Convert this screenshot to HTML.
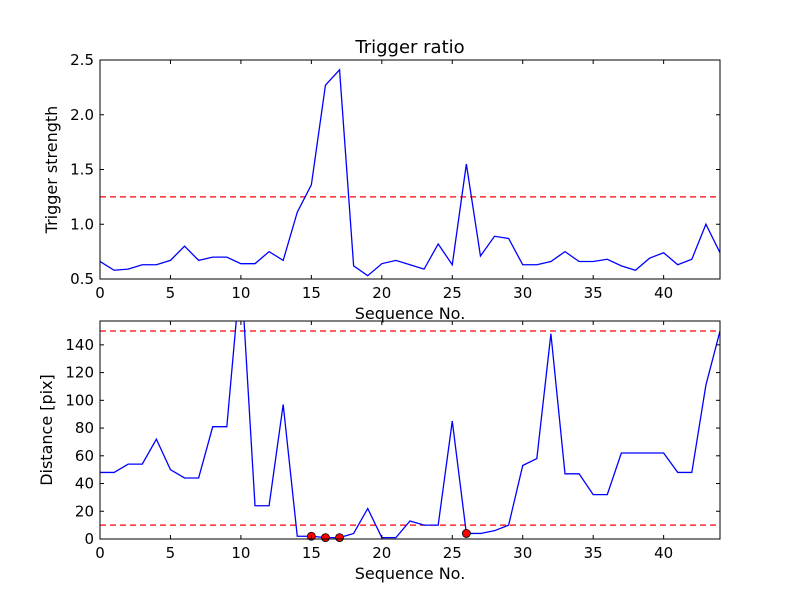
<!DOCTYPE html>
<html><head><meta charset="utf-8"><style>
body{margin:0;background:#fff}
svg text{font-family:"DejaVu Sans","Liberation Sans",sans-serif;fill:#000}
</style></head><body>
<svg id="c" width="800" height="600" viewBox="0 0 800 600">
<defs>
<clipPath id="clipTop"><rect x="100" y="60" width="620" height="219"/></clipPath>
<clipPath id="clipBot"><rect x="100" y="321" width="620" height="218"/></clipPath>
</defs>
<rect width="800" height="600" fill="#fff"/>
<g id="g"></g>
</svg>
<script>
const seq = Array.from({length:45},(_,i)=>i);
const strength = [0.66,0.58,0.59,0.63,0.63,0.67,0.80,0.67,0.70,0.70,0.64,0.64,0.75,0.67,1.11,1.36,2.27,2.41,0.62,0.53,0.64,0.67,0.63,0.59,0.82,0.63,1.55,0.71,0.89,0.87,0.63,0.63,0.66,0.75,0.66,0.66,0.68,0.62,0.58,0.69,0.74,0.63,0.68,1.00,0.74];
const distance = [48,48,54,54,72,50,44,44,81,81,195,24,24,97,2,2,1,1,4,22,1,1,13,10,10,85,4,4,6,10,53,58,148,47,47,32,32,62,62,62,62,48,48,111,150];
const markedIdx = [15,16,17,26];
const strengthThreshold = 1.25;
const distThresholds = [10,150];
const xTicks = [0,5,10,15,20,25,30,35,40];
const topYTicks = [0.5,1.0,1.5,2.0,2.5];
const botYTicks = [0,20,40,60,80,100,120,140];

const NS='http://www.w3.org/2000/svg';
const g=document.getElementById('g');
function el(t,a,p){const e=document.createElementNS(NS,t);for(const k in a)e.setAttribute(k,a[k]);(p||g).appendChild(e);return e;}
const X0=100,X1=720;
const xs=v=>X0+(v-0)/(44-0)*(X1-X0);
const topY=v=>279-(v-0.5)/(2.5-0.5)*219;
const botY=v=>539-(v-0)/(157.2-0)*218;

function axes(top,bot,yTicks,ys,fmt,ylabel,yname){
  for(const t of xTicks){
    const x=xs(t);
    let l=el('line',{x1:x,x2:x,y1:bot,y2:bot-4,stroke:'#000'});
    
    
    l=el('line',{x1:x,x2:x,y1:top,y2:top+4,stroke:'#000'});
    
    
    const tx=el('text',{x:x,y:bot+19,'text-anchor':'middle','font-size':15});
    tx.textContent=t;
    
    
  }
  for(const t of yTicks){
    const y=ys(t);
    let l=el('line',{x1:X0,x2:X0+4,y1:y,y2:y,stroke:'#000'});
    
    
    l=el('line',{x1:X1,x2:X1-4,y1:y,y2:y,stroke:'#000'});
    
    
    const tx=el('text',{x:X0-6,y:y+5,'text-anchor':'end','font-size':15});
    tx.textContent=fmt(t);
    
    
  }
  const xl=el('text',{x:(X0+X1)/2,y:bot+40,'text-anchor':'middle','font-size':16});
  xl.textContent='Sequence No.';
  
  
  const cy=(top+bot)/2;
  const yl=el('text',{x:0,y:0,'text-anchor':'middle','font-size':16,transform:`translate(${yname==='top'?57:52},${cy}) rotate(-90)`});
  yl.textContent=ylabel;
  
  
}
function frame(top,bot,name){
  const r=el('rect',{x:X0,y:top,width:X1-X0,height:bot-top,fill:'none',stroke:'#000','stroke-width':1});
  
  
}
function hline(v,ys,clip,name){
  const y=ys(v);
  const l=el('line',{x1:X0,x2:X1,y1:y,y2:y,stroke:'#f00','stroke-width':1.3,'stroke-dasharray':'6,4','clip-path':clip});
  
  
}
function series(vals,ys,clip,name){
  const p=el('polyline',{points:vals.map((v,i)=>xs(seq[i])+','+ys(v)).join(' '),fill:'none',stroke:'#00f','stroke-width':1.3,'clip-path':clip});
  
  
}

// top panel
hline(strengthThreshold,topY,'url(#clipTop)','strength-threshold-line');
series(strength,topY,'url(#clipTop)','trigger-strength-line');
frame(60,279,'top-plot-area');
axes(60,279,topYTicks,topY,v=>v.toFixed(1),'Trigger strength','top');
const title=el('text',{x:410,y:53,'text-anchor':'middle','font-size':18});
title.textContent='Trigger ratio';



// bottom panel
hline(distThresholds[0],botY,'url(#clipBot)','distance-lower-threshold');
hline(distThresholds[1],botY,'url(#clipBot)','distance-upper-threshold');
series(distance,botY,'url(#clipBot)','distance-line');
for(const i of markedIdx){
  const c=el('circle',{cx:xs(seq[i]),cy:botY(distance[i]),r:4,fill:'#f00',stroke:'#000','stroke-width':0.8});
  
  
}
frame(321,539,'bottom-plot-area');
axes(321,539,botYTicks,botY,v=>String(v),'Distance [pix]','bot');
</script>
</body></html>
